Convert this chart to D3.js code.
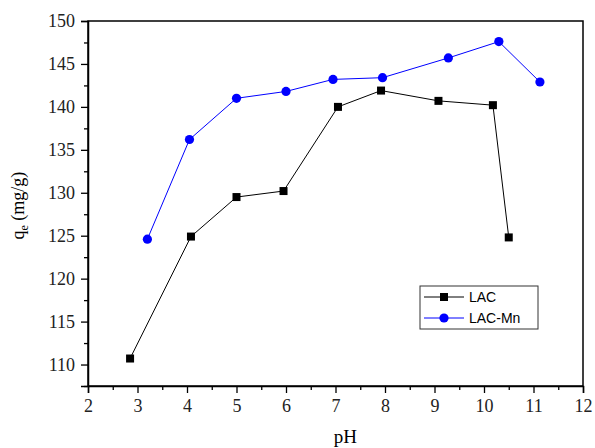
<!DOCTYPE html>
<html>
<head>
<meta charset="utf-8">
<script src="https://cdn.jsdelivr.net/npm/d3@7"></script>
<style>
  body { margin: 0; background: #fff; }
</style>
</head>
<body>
<div id="vis"></div>
<script>
// data
var lacPH = [2.85, 4.08, 5.0, 5.95, 7.05, 7.92, 9.08, 10.18, 10.5];
var lacQe = [110.7, 124.9, 129.5, 130.2, 140.0, 141.9, 140.7, 140.2, 124.8];
var mnPH = [3.2, 4.05, 5.0, 6.0, 6.95, 7.95, 9.28, 10.3, 11.13];
var mnQe = [124.6, 136.2, 141.0, 141.8, 143.2, 143.4, 145.7, 147.6, 142.9];
var xTicks = [2, 3, 4, 5, 6, 7, 8, 9, 10, 11, 12];
var yTicks = [110, 115, 120, 125, 130, 135, 140, 145, 150];

var serif = "'Liberation Serif', 'Times New Roman', serif";
var W = 595, H = 448;
var margin = {top: 21, right: 12, bottom: 62, left: 88},
    width = W - margin.left - margin.right,
    height = H - margin.top - margin.bottom;

var svg = d3.select("#vis").append("svg")
    .attr("width", W)
    .attr("height", H)
  .append("g")
    .attr("transform", "translate(" + margin.left + "," + margin.top + ")");

var x = d3.scaleLinear().domain([2, 12]).range([0, width]);
var y = d3.scaleLinear().domain([107.5, 150]).range([height, 0]);

// frame
svg.append("rect")
    .attr("width", width).attr("height", height)
    .attr("fill", "none").attr("stroke", "#000").attr("stroke-width", 1.5);

// minor ticks
var xMinor = d3.range(2.5, 12, 1);
var yMinor = d3.range(107.5, 150, 5);

svg.append("g")
    .attr("transform", "translate(0," + height + ")")
    .call(d3.axisBottom(x).tickValues(xMinor).tickSize(4).tickFormat(""))
    .call(g => g.select(".domain").remove());
svg.append("g")
    .call(d3.axisLeft(y).tickValues(yMinor).tickSize(4).tickFormat(""))
    .call(g => g.select(".domain").remove());

// major axes
svg.append("g")
    .attr("transform", "translate(0," + height + ")")
    .call(d3.axisBottom(x).tickValues(xTicks).tickSize(7).tickPadding(6).tickFormat(d3.format("d")))
    .call(g => g.select(".domain").attr("stroke-width", 1.5));
svg.append("g")
    .call(d3.axisLeft(y).tickValues(yTicks).tickSize(7).tickPadding(6).tickFormat(d3.format("d")))
    .call(g => g.select(".domain").attr("stroke-width", 1.5));

svg.selectAll(".tick line").attr("stroke-width", 1.3);
svg.selectAll(".tick text")
    .attr("font-family", null)
    .style("font-family", serif)
    .style("font-size", "18px")
    .attr("fill", "#222");

// axis titles
svg.append("text")
    .attr("x", x(7.2)).attr("y", height + 57)
    .attr("text-anchor", "middle")
    .style("font-family", serif)
    .style("font-size", "19px")
    .text("pH");

var yl = svg.append("text")
    .attr("transform", "translate(-64," + y(128.5) + ") rotate(-90)")
    .attr("text-anchor", "middle")
    .style("font-family", serif)
    .style("font-size", "18px");
yl.append("tspan").text("q");
yl.append("tspan").attr("dy", 4).style("font-size", "12px").text("e");
yl.append("tspan").attr("dy", -4).text(" (mg/g)");

var line = d3.line().x(d => x(d[0])).y(d => y(d[1]));
var lac = lacPH.map((d, i) => [d, lacQe[i]]);
var mn = mnPH.map((d, i) => [d, mnQe[i]]);

svg.append("path").datum(lac)
    .attr("d", line).attr("fill", "none").attr("stroke", "#000").attr("stroke-width", 1);
svg.append("path").datum(mn)
    .attr("d", line).attr("fill", "none").attr("stroke", "#0000ff").attr("stroke-width", 1);

svg.selectAll(".sq").data(lac).enter().append("rect")
    .attr("x", d => x(d[0]) - 4).attr("y", d => y(d[1]) - 4)
    .attr("width", 8).attr("height", 8).attr("fill", "#000");
svg.selectAll(".ci").data(mn).enter().append("circle")
    .attr("cx", d => x(d[0])).attr("cy", d => y(d[1]))
    .attr("r", 4.6).attr("fill", "#0000ff");

// legend
var lg = svg.append("g").attr("transform", "translate(" + (420 - margin.left) + "," + (286 - margin.top) + ")");
lg.append("rect").attr("width", 118).attr("height", 43)
    .attr("fill", "#fff").attr("stroke", "#333").attr("stroke-width", 1);
var items = [{name: "LAC", color: "#000", shape: "sq"}, {name: "LAC-Mn", color: "#0000ff", shape: "ci"}];
items.forEach(function(it, i) {
  var yy = 11 + i * 21;
  lg.append("line").attr("x1", 4).attr("x2", 44).attr("y1", yy).attr("y2", yy)
    .attr("stroke", it.color).attr("stroke-width", 1);
  if (it.shape == "sq") {
    lg.append("rect").attr("x", 20).attr("y", yy - 4).attr("width", 8).attr("height", 8).attr("fill", it.color);
  } else {
    lg.append("circle").attr("cx", 24).attr("cy", yy).attr("r", 4.6).attr("fill", it.color);
  }
  lg.append("text").attr("x", 49).attr("y", yy + 5)
    .style("font-family", "'Liberation Sans', Arial, sans-serif")
    .style("font-size", "14px")
    .text(it.name);
});
</script>
</body>
</html>
